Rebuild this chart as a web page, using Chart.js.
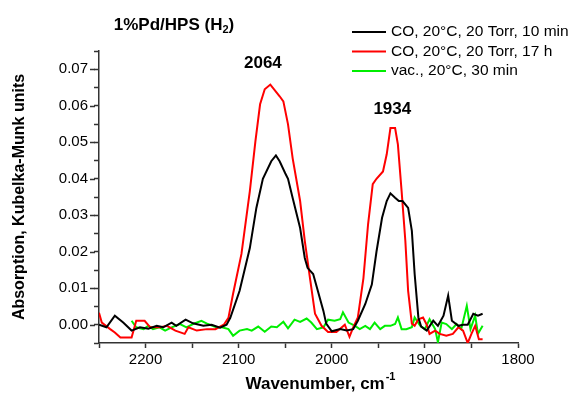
<!DOCTYPE html>
<html>
<head>
<meta charset="utf-8">
<script src="https://cdn.jsdelivr.net/npm/chart.js@4.4.0/dist/chart.umd.min.js"></script>
<style>
    html, body { margin: 0; padding: 0; background: #fff; }
    canvas { display: block; }
</style>
</head>
<body>
<canvas id="irChart" width="569" height="394"></canvas>
<script>
// Spectra: wavenumber (cm-1) and Kubelka-Munk absorption
const wnCO10min = [2250, 2242, 2233, 2224, 2215, 2206, 2197, 2188, 2181, 2172, 2167, 2157, 2149, 2138, 2129, 2120, 2113,
    2109, 2099, 2088, 2081, 2074, 2065, 2060, 2056, 2050, 2047, 2042, 2034, 2029, 2026, 2020, 2015, 2009, 2006, 2000,
    1991, 1984, 1977, 1972, 1964, 1957, 1952, 1946, 1941, 1937, 1932, 1928, 1924, 1918, 1914, 1911, 1907, 1904,
    1898, 1891, 1886, 1880, 1875, 1871, 1864, 1859, 1854, 1848, 1843, 1838];
const kmCO10min = [0.0000, -0.0007, 0.0025, 0.0006, -0.0016, -0.0007, -0.0011, -0.0003, -0.0007, 0.0006, -0.0003, 0.0014, 0.0004, -0.0003, 0.0000, -0.0008, 0.0000,
    0.0019, 0.0093, 0.0210, 0.0320, 0.0400, 0.0448, 0.0464, 0.0448, 0.0415, 0.0400, 0.0347, 0.0265, 0.0183, 0.0156, 0.0139, 0.0093, 0.0038, 0.0003, -0.0018,
    -0.0012, -0.0016, -0.0012, 0.0011, 0.0057, 0.0110, 0.0200, 0.0293, 0.0339, 0.0360, 0.0348, 0.0339, 0.0339, 0.0320, 0.0257, 0.0139, 0.0020, -0.0005,
    -0.0016, 0.0011, -0.0003, 0.0025, 0.0080, 0.0011, -0.0003, 0.0000, 0.0000, 0.0030, 0.0025, 0.0030];

const wnCO17h = [2250, 2247, 2238, 2233, 2227, 2215, 2210, 2201, 2195, 2184, 2177, 2168, 2158, 2154, 2145, 2134, 2125, 2116,
    2111, 2106, 2097, 2088, 2082, 2077, 2072, 2066, 2056, 2052, 2047, 2042, 2034, 2029, 2023, 2018, 2011, 2004,
    1995, 1986, 1981, 1977, 1972, 1966, 1961, 1956, 1952, 1945, 1941, 1937, 1932, 1929, 1925, 1921, 1918, 1914, 1911,
    1907, 1902, 1898, 1895, 1889, 1884, 1877, 1870, 1864, 1859, 1854, 1850, 1846, 1842, 1838];
const kmCO17h = [0.0033, 0.0006, -0.0012, -0.0021, -0.0035, -0.0035, 0.0011, 0.0011, -0.0007, -0.0007, -0.0003, -0.0016, -0.0025, -0.0007, -0.0016, -0.0012, -0.0012, 0.0000,
    0.0019, 0.0085, 0.0194, 0.0366, 0.0503, 0.0604, 0.0645, 0.0658, 0.0626, 0.0612, 0.0549, 0.0456, 0.0339, 0.0230, 0.0120, 0.0030, -0.0003, -0.0020,
    -0.0020, 0.0000, -0.0033, -0.0007, 0.0020, 0.0128, 0.0276, 0.0385, 0.0400, 0.0420, 0.0467, 0.0539, 0.0539, 0.0494, 0.0366, 0.0230, 0.0093, 0.0003, -0.0003,
    0.0015, 0.0020, 0.0000, -0.0025, -0.0016, -0.0025, -0.0030, -0.0025, -0.0007, -0.0016, -0.0050, -0.0025, -0.0003, -0.0040, -0.0040];

const wnVac = [2215, 2210, 2202, 2197, 2192, 2185, 2179, 2172, 2163, 2156, 2149, 2140, 2133, 2124, 2118, 2111, 2106,
    2099, 2091, 2086, 2079, 2072, 2065, 2059, 2052, 2047, 2040, 2034, 2027, 2022, 2016, 2009, 2004, 1997, 1991, 1988,
    1982, 1975, 1970, 1964, 1959, 1954, 1948, 1943, 1937, 1932, 1929, 1925, 1920, 1914, 1911, 1905, 1900, 1895, 1889,
    1886, 1882, 1877, 1871, 1866, 1861, 1855, 1851, 1846, 1843, 1838];
const kmVac = [0.0011, -0.0007, -0.0012, -0.0003, -0.0012, -0.0007, -0.0016, -0.0007, 0.0002, -0.0007, 0.0002, 0.0011, 0.0002, -0.0007, -0.0007, -0.0012, -0.0030,
    -0.0016, -0.0012, -0.0016, -0.0005, -0.0019, -0.0005, -0.0007, 0.0008, -0.0010, 0.0014, 0.0008, 0.0017, 0.0006, -0.0012, -0.0007, 0.0014, 0.0011, 0.0015, 0.0034,
    0.0006, -0.0003, -0.0012, -0.0003, -0.0012, 0.0006, -0.0012, -0.0003, -0.0003, 0.0002, 0.0020, -0.0012, -0.0012, -0.0007, 0.0020, -0.0003, -0.0012, 0.0015, -0.0012,
    -0.0048, 0.0006, 0.0002, -0.0012, 0.0002, -0.0012, 0.0052, -0.0012, 0.0025, -0.0025, -0.0003];

const seriesLabels = ['CO, 20°C, 20 Torr, 10 min', 'CO, 20°C, 20 Torr, 17 h', 'vac., 20°C, 30 min'];
const seriesColors = ['#000000', '#ff0000', '#00ee00'];
const peakLabels = ['2064', '1934'];
const peakAnchors = [2074, 1935];

const fontFam = '"Liberation Sans", Arial, sans-serif';
Chart.defaults.font.family = fontFam;

function toPoints(xs, ys) {
    return xs.map((v, i) => ({ x: v, y: ys[i] }));
}

// title, legend, peak labels, axis titles and the longer major y ticks
const decor = {
    id: 'decor',
    afterDraw(chart) {
        const { ctx, chartArea: a, scales: { x, y } } = chart;
        ctx.save();

        ctx.strokeStyle = '#333';
        ctx.lineWidth = 1.5;
        y.ticks.forEach(t => {
            if (!t.label) return;
            const py = Math.round(y.getPixelForValue(t.value)) + 0.5;
            ctx.beginPath();
            ctx.moveTo(a.left - 4, py);
            ctx.lineTo(a.left - 9, py);
            ctx.stroke();
        });

        ctx.fillStyle = '#000';
        ctx.textBaseline = 'middle';

        // title with subscript
        const t1 = '1%Pd/HPS (H', t3 = ')';
        ctx.font = 'bold 17px ' + fontFam;
        const w1 = ctx.measureText(t1).width;
        ctx.font = 'bold 11px ' + fontFam;
        const w2 = ctx.measureText('2').width;
        ctx.font = 'bold 17px ' + fontFam;
        const w3 = ctx.measureText(t3).width;
        const tx = 174 - (w1 + w2 + w3) / 2;
        ctx.textAlign = 'left';
        ctx.fillText(t1, tx, 25);
        ctx.font = 'bold 11px ' + fontFam;
        ctx.fillText('2', tx + w1, 30);
        ctx.font = 'bold 17px ' + fontFam;
        ctx.fillText(t3, tx + w1 + w2, 25);

        // peak labels
        ctx.textAlign = 'center';
        ctx.fillText(peakLabels[0], x.getPixelForValue(peakAnchors[0]), y.getPixelForValue(0.0716));
        ctx.fillText(peakLabels[1], x.getPixelForValue(peakAnchors[1]), y.getPixelForValue(0.0590));

        // legend
        ctx.font = '15.5px ' + fontFam;
        ctx.textAlign = 'left';
        chart.data.datasets.forEach((ds, i) => {
            const ly = 32 + i * 19.5;
            ctx.strokeStyle = ds.borderColor;
            ctx.lineWidth = 2;
            ctx.beginPath();
            ctx.moveTo(352, ly);
            ctx.lineTo(386, ly);
            ctx.stroke();
            ctx.fillText(ds.label, 391, ly);
        });

        // axis titles
        ctx.font = 'bold 16px ' + fontFam;
        ctx.save();
        ctx.translate(20, (a.top + a.bottom) / 2);
        ctx.rotate(-Math.PI / 2);
        ctx.textAlign = 'center';
        ctx.fillText('Absorption, Kubelka-Munk units', 0, 0);
        ctx.restore();

        ctx.font = 'bold 17px ' + fontFam;
        const xt = 'Wavenumber, cm';
        const wx = ctx.measureText(xt).width;
        ctx.font = 'bold 11px ' + fontFam;
        const ws = ctx.measureText('-1').width;
        const sx = 320 - (wx + ws) / 2;
        ctx.textAlign = 'left';
        ctx.font = 'bold 17px ' + fontFam;
        ctx.fillText(xt, sx, 384);
        ctx.font = 'bold 11px ' + fontFam;
        ctx.fillText('-1', sx + wx + 1, 377);

        ctx.restore();
    }
};

const datasets = [
    toPoints(wnCO10min, kmCO10min),
    toPoints(wnCO17h, kmCO17h),
    toPoints(wnVac, kmVac)
].map((pts, i) => ({
    label: seriesLabels[i],
    data: pts,
    borderColor: seriesColors[i],
    backgroundColor: seriesColors[i],
    borderWidth: 2,
    pointRadius: 0,
    tension: 0,
    fill: false
}));

new Chart(document.getElementById('irChart').getContext('2d'), {
    type: 'line',
    data: { datasets: datasets },
    options: {
        responsive: false,
        animation: false,
        layout: { padding: { top: 51, right: 51, left: 0, bottom: 0 } },
        plugins: {
            legend: { display: false },
            tooltip: { enabled: false }
        },
        scales: {
            x: {
                type: 'linear',
                reverse: true,
                min: 1800,
                max: 2250,
                afterFit(s) { s.height = 51; },
                ticks: {
                    stepSize: 50,
                    autoSkip: false,
                    maxRotation: 0,
                    padding: 3,
                    color: '#000',
                    font: { size: 15 },
                    callback: v => (v % 100 === 0 ? String(v) : '')
                },
                grid: { drawOnChartArea: false, tickLength: 5, tickColor: '#333', tickWidth: 1.5 },
                border: { color: '#333', width: 1.5 }
            },
            y: {
                min: -0.005,
                max: 0.075,
                afterFit(s) { s.width = 99; },
                ticks: {
                    stepSize: 0.005,
                    autoSkip: false,
                    padding: 6,
                    color: '#000',
                    font: { size: 15 },
                    callback: v => (Math.round(v * 1000) % 10 === 0 ? v.toFixed(2) : '')
                },
                grid: { drawOnChartArea: false, tickLength: 5, tickColor: '#333', tickWidth: 1.5 },
                border: { color: '#333', width: 1.5 }
            }
        }
    },
    plugins: [decor]
});
</script>
</body>
</html>
